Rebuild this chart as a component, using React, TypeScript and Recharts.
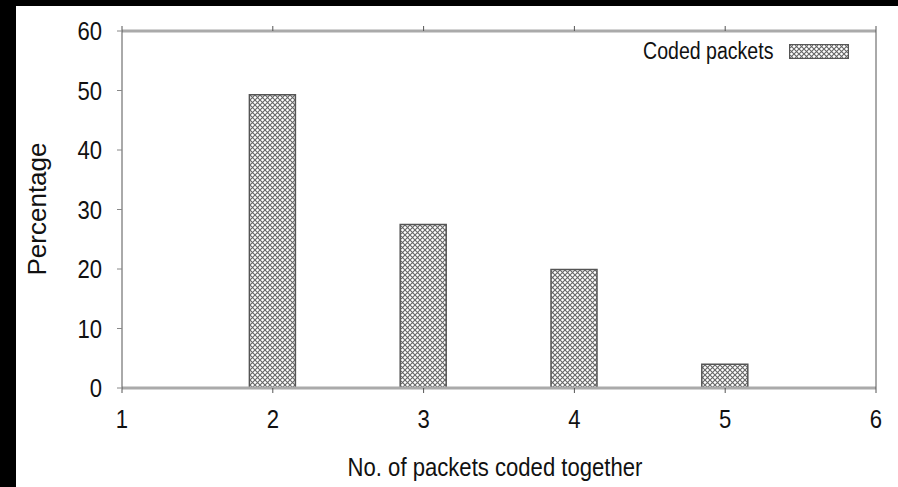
import React from 'react';
import { BarChart, Bar, XAxis, YAxis } from 'recharts';

const packetCounts = [2, 3, 4, 5];
const codedPercent = [49.3, 27.5, 19.9, 4.0];
const xTicks = [1, 2, 3, 4, 5, 6];
const yTicks = [0, 10, 20, 30, 40, 50, 60];

const data = packetCounts.map((n, i) => ({ n, coded: codedPercent[i] }));

const FONT = '"Liberation Sans", Arial, sans-serif';
const SQUEEZE = 0.85;

const YTick = (props: any) => {
  const { x, y, payload } = props;
  return (
    <text
      transform={`translate(${x},${y}) scale(${SQUEEZE},1)`}
      textAnchor="end"
      dy="0.35em"
      fontSize={26}
      fontFamily={FONT}
      fill="#111"
    >
      {payload.value}
    </text>
  );
};

const XTick = (props: any) => {
  const { x, y, payload } = props;
  return (
    <text
      transform={`translate(${x},${y}) scale(${SQUEEZE},1)`}
      textAnchor="middle"
      dy="0.71em"
      fontSize={26}
      fontFamily={FONT}
      fill="#111"
    >
      {payload.value}
    </text>
  );
};

const NoTick = () => <g />;

const hatch = (id: string) => (
  <pattern id={id} patternUnits="userSpaceOnUse" width={5} height={5}>
    <rect width={5} height={5} fill="#fff" />
    <path d="M0,0 L5,5 M5,0 L0,5" stroke="#666" strokeWidth={1.1} />
  </pattern>
);

// legend drawn outside recharts so it does not take space from the plot
const LegendBox = () => (
  <div style={{ position: 'absolute', right: 49, top: 38, display: 'flex', alignItems: 'center' }}>
    <span
      style={{
        fontFamily: FONT,
        fontSize: 23,
        color: '#111',
        display: 'inline-block',
        transform: `scaleX(${SQUEEZE})`,
        transformOrigin: 'right center',
        marginRight: 16,
        whiteSpace: 'nowrap',
        lineHeight: '26px',
      }}
    >
      Coded packets
    </span>
    <svg width={60} height={15} style={{ display: 'block' }}>
      <defs>{hatch('hatchLegend')}</defs>
      <rect x={0.5} y={0.5} width={59} height={14} fill="url(#hatchLegend)" stroke="#555" strokeWidth={1} />
    </svg>
  </div>
);

export default function App() {
  return (
    <div style={{ position: 'absolute', left: 0, top: 0, width: 898, height: 487, background: '#fff' }}>
      <div style={{ position: 'absolute', left: 0, top: 0, width: 898, height: 6, background: '#000' }} />
      <div style={{ position: 'absolute', left: 0, top: 0, width: 16, height: 487, background: '#000' }} />
      <div style={{ position: 'absolute', left: 0, top: 0 }}>
        <BarChart
          width={898}
          height={487}
          data={data}
          margin={{ top: 1, right: 2, bottom: 39, left: 62 }}
        >
          <defs>{hatch('hatchBar')}</defs>
          <XAxis
            xAxisId="bottom"
            dataKey="n"
            type="number"
            domain={[1, 6]}
            ticks={xTicks}
            orientation="bottom"
            height={60}
            axisLine={{ stroke: '#aaa', strokeWidth: 3 }}
            tickLine={{ stroke: '#555' }}
            tickSize={5}
            tickMargin={17}
            tick={<XTick />}
          />
          <XAxis
            xAxisId="top"
            dataKey="n"
            type="number"
            domain={[1, 6]}
            ticks={xTicks}
            orientation="top"
            height={30}
            axisLine={{ stroke: '#aaa', strokeWidth: 3 }}
            tickLine={{ stroke: '#555' }}
            tickSize={5}
            tick={NoTick}
          />
          <YAxis
            yAxisId="left"
            type="number"
            domain={[0, 60]}
            ticks={yTicks}
            width={60}
            axisLine={{ stroke: '#555', strokeWidth: 1 }}
            tickLine={{ stroke: '#888' }}
            tickSize={5}
            tickMargin={15}
            tick={<YTick />}
            label={{
              content: () => (
                <text
                  transform="translate(46,209) rotate(-90)"
                  textAnchor="middle"
                  fontSize={26}
                  fontFamily={FONT}
                  fill="#111"
                >
                  Percentage
                </text>
              ),
            }}
          />
          <YAxis
            yAxisId="right"
            orientation="right"
            type="number"
            domain={[0, 60]}
            ticks={yTicks}
            width={20}
            axisLine={{ stroke: '#555', strokeWidth: 1 }}
            tickLine={{ stroke: '#888' }}
            tickSize={5}
            tick={NoTick}
          />
          <Bar
            xAxisId="bottom"
            yAxisId="left"
            dataKey="coded"
            name="Coded packets"
            barSize={46}
            fill="url(#hatchBar)"
            stroke="#555"
            strokeWidth={1.5}
            isAnimationActive={false}
          />
        </BarChart>
      </div>
      <LegendBox />
      <div
        style={{
          position: 'absolute',
          left: 495,
          top: 452,
          transform: `translateX(-50%) scaleX(${SQUEEZE})`,
          fontFamily: FONT,
          fontSize: 26,
          color: '#111',
          whiteSpace: 'nowrap',
          lineHeight: '30px',
        }}
      >
        No. of packets coded together
      </div>
    </div>
  );
}
